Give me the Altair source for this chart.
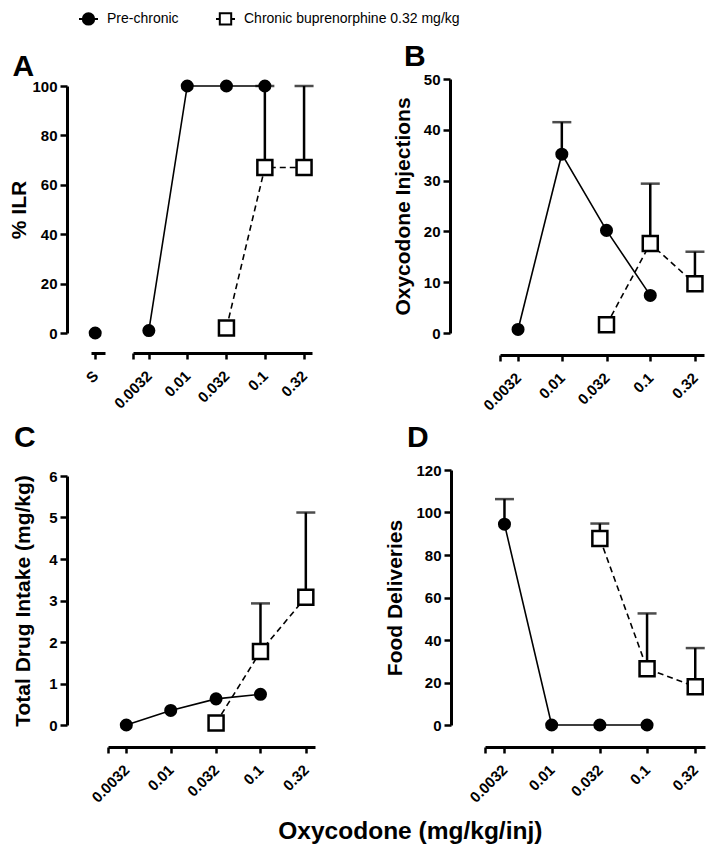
import altair as alt
import pandas as pd

FONT = "Arial"

# ---------------- data ----------------
series = ["Pre-chronic", "Chronic buprenorphine 0.32 mg/kg"]
dose_ticks = [0.0032, 0.01, 0.032, 0.1, 0.32]
pre_doses = [0.0032, 0.01, 0.032, 0.1]
chr_doses = [0.032, 0.1, 0.32]
x_domain = [0.002, 0.405]

# A: % ILR
saline_label = ["S"]
ilr_saline = [0]
ilr_pre = [1, 100, 100, 100]
ilr_pre_sem = [0, 0, 0, 0]
ilr_chr = [2, 67, 67]
ilr_chr_sem = [0, 33, 33]

# B: Oxycodone injections
inj_pre = [0.7, 35.2, 20.2, 7.4]
inj_pre_sem = [0, 6.3, 0, 0]
inj_chr = [1.6, 17.6, 9.7]
inj_chr_sem = [0, 11.8, 6.3]

# C: Total drug intake (mg/kg)
intake_pre = [0.0, 0.35, 0.63, 0.74]
intake_pre_sem = [0, 0, 0, 0]
intake_chr = [0.05, 1.77, 3.08]
intake_chr_sem = [0, 1.16, 2.04]

# D: Food deliveries
food_pre = [94.5, 0, 0, 0]
food_pre_sem = [11.8, 0, 0, 0]
food_chr = [87.8, 26.5, 18.0]
food_chr_sem = [7.0, 26.0, 18.2]

circle_stub = "M-1,0H-0.6M0.6,0H1M-0.6,0A0.6,0.6 0 1,0 0.6,0A0.6,0.6 0 1,0 -0.6,0Z"
square_stub = "M-1,0H-0.6M0.6,0H1M-0.6,-0.6H0.6V0.6H-0.6Z"


def frame(doses, vals, sem, name):
    df = pd.DataFrame({"dose": doses, "value": vals, "sem": sem})
    df["top"] = df["value"] + df["sem"]
    df["series"] = name
    return df


def panel(letter, ytitle, ymax, ystep, pre_v, pre_s, chr_v, chr_s,
          width, height, xrange, yrange, yoff, xoff, tpad, ldx, loff, extra=None):
    pre = frame(pre_doses, pre_v, pre_s, series[0])
    chrn = frame(chr_doses, chr_v, chr_s, series[1])
    both = pd.concat([pre, chrn])

    yscale = alt.Scale(domain=[0, ymax], nice=False, zero=False, range=yrange)
    xscale = alt.Scale(type="log", domain=x_domain, nice=False, range=xrange)
    xaxis = alt.Axis(values=[x_domain[0]] + dose_ticks, offset=xoff, title=None,
                     orient="bottom", format=".2~g",
                     labelExpr="datum.value < 0.003 ? '' : datum.label")
    yaxis = alt.Axis(values=list(range(0, ymax + 1, ystep)), offset=yoff,
                     title=ytitle, titlePadding=tpad)
    xenc = alt.X("dose:Q", scale=xscale, axis=xaxis)
    yenc = alt.Y("value:Q", scale=yscale, axis=yaxis)

    line_pre = alt.Chart(pre).mark_line(color="black", strokeWidth=1.6).encode(x=xenc, y=yenc)
    line_chr = alt.Chart(chrn).mark_line(color="black", strokeWidth=1.6, strokeDash=[6, 4]).encode(
        x=xenc, y=yenc)
    err = alt.Chart(both).transform_filter("datum.sem > 0").mark_rule(
        color="black", strokeWidth=2.5).encode(x=xenc, y=yenc, y2="top:Q")
    cap = alt.Chart(both).transform_filter("datum.sem > 0").mark_tick(
        color="black", orient="horizontal", size=19, thickness=2.5).encode(
        x=xenc, y=alt.Y("top:Q", scale=yscale, axis=yaxis))
    pts_pre = alt.Chart(pre).mark_point(shape="circle", filled=True, color="black",
                                        size=170, opacity=1).encode(x=xenc, y=yenc)
    pts_chr = alt.Chart(chrn).mark_point(shape="square", filled=True, fill="white",
                                         stroke="black", strokeWidth=2.5, size=225,
                                         opacity=1).encode(x=xenc, y=yenc)
    main = alt.layer(line_pre, line_chr, err, cap, pts_pre, pts_chr)
    title = alt.TitleParams(letter, anchor="start", frame="group", dx=ldx, offset=loff,
                            fontSize=30, fontWeight="bold", font=FONT, color="black")
    if extra is not None:
        ch = alt.layer(main, *extra(yscale, yaxis)).resolve_scale(x="independent")
    else:
        ch = main
    return ch.properties(width=width, height=height, title=title)


def saline_layers(yscale, yaxis):
    sal = pd.DataFrame({"label": saline_label, "value": ilr_saline})
    s_pts = alt.Chart(sal).mark_point(shape="circle", filled=True, color="black",
                                      size=170, opacity=1).encode(
        x=alt.X("label:N",
                scale=alt.Scale(type="point", range=[0, 14], padding=0.5, align=0.3),
                axis=alt.Axis(offset=20, title=None, orient="bottom")),
        y=alt.Y("value:Q", scale=yscale, axis=yaxis))
    leg = alt.Legend(orient="none", legendX=-13, legendY=-71, direction="horizontal",
                     title=None, titleFontSize=0, titlePadding=0, padding=0,
                     labelFont=FONT, labelFontSize=14, labelColor="black",
                     labelLimit=500,
                     symbolSize=361, symbolStrokeWidth=2, symbolStrokeColor="black",
                     labelOffset=8, columnPadding=33)
    legdf = pd.DataFrame({"series": series})
    dummy = alt.Chart(legdf).transform_filter("false").mark_point(
        filled=True, stroke="black", strokeWidth=2, opacity=1).encode(
        shape=alt.Shape("series:N", scale=alt.Scale(domain=series, range=[circle_stub, square_stub]),
                        legend=leg),
        fill=alt.Fill("series:N", scale=alt.Scale(domain=series, range=["black", "white"]),
                      legend=leg),
        stroke=alt.Stroke("series:N", scale=alt.Scale(domain=series, range=["black", "black"]),
                          legend=leg))
    return [s_pts, dummy]


A = panel("A", "% ILR", 100, 20, ilr_pre, ilr_pre_sem, ilr_chr, ilr_chr_sem,
          224, 254, [42, 221], [254, 7], 24, 20, 2, -78.5, -3, extra=saline_layers)
B = panel("B", "Oxycodone Injections", 50, 10, inj_pre, inj_pre_sem, inj_chr, inj_chr_sem,
          220, 254, [15, 219], [254, 0], 35, 22, 10, -81, 0)
C = panel("C", "Total Drug Intake (mg/kg)", 6, 1, intake_pre, intake_pre_sem, intake_chr,
          intake_chr_sem, 224, 255, [17, 224], [255, 6], 24, 22, 15, -77, 16)
D = panel("D", "Food Deliveries", 120, 20, food_pre, food_pre_sem, food_chr, food_chr_sem,
          220, 255, [0, 220], [255, 0], 34, 22, 10, -78, 10)

chart = alt.concat(A, B, C, D, columns=2, spacing={"row": 9, "column": 65}).resolve_scale(
    x="independent", y="independent").properties(
    padding={"left": 0, "top": 0, "right": 0, "bottom": 0},
    title=alt.TitleParams("Oxycodone (mg/kg/inj)", orient="bottom", anchor="middle",
                          fontSize=24.5, fontWeight="bold", font=FONT, color="black",
                          offset=15, dx=52)
).configure_view(stroke=None).configure_axis(
    domainColor="black", domainWidth=3, tickColor="black", tickWidth=2.5, grid=False,
    labelFont=FONT, labelFontSize=15, labelFontWeight="bold", labelColor="black",
    titleFont=FONT, titleFontSize=21, titleFontWeight="bold", titleColor="black",
    labelOverlap=False, labelBound=False
).configure_axisX(
    labelAngle=315, labelAlign="right", labelBaseline="middle", labelPadding=14,
    tickSize=6, labelFlush=False
).configure_axisY(
    tickSize=7, labelPadding=3, labelFlush=False
)

chart.save("out.html", embed_options={"renderer": "svg", "actions": False})
